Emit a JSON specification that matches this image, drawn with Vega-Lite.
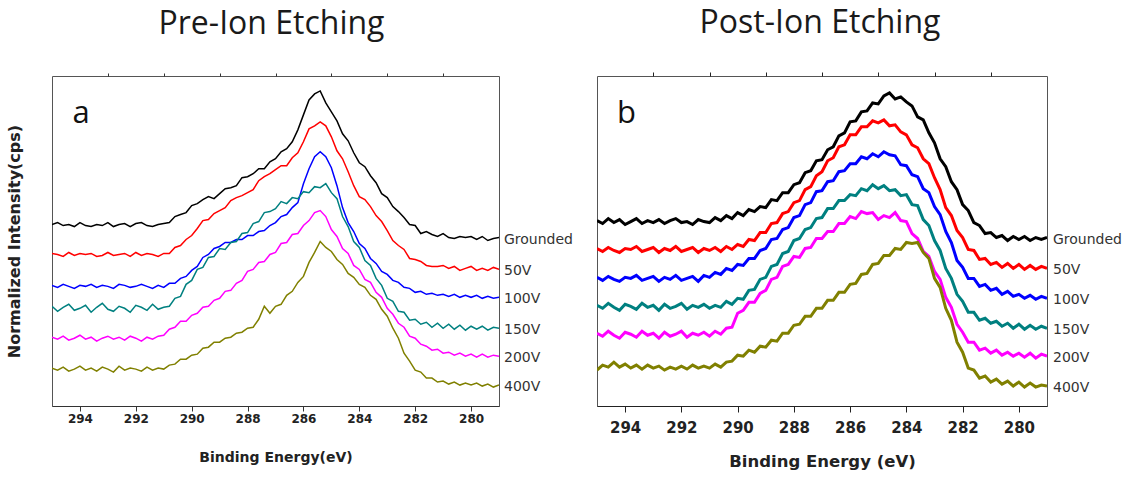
{
  "$schema": "https://vega.github.io/schema/vega-lite/v6.json",
  "background": "white",
  "padding": {"left": 5, "top": 6, "right": 5, "bottom": 4},
  "config": {
    "view": {"stroke": "#555", "strokeWidth": 1},
    "font": "DejaVu Sans",
    "axis": {"grid": false}
  },
  "bounds": "flush",
  "spacing": 98,
  "datasets": {
    "pre": [
      {"e":295,"Grounded":182,"50V":153,"100V":121,"150V":100,"200V":69,"400V":38},
      {"e":294.8,"Grounded":184,"50V":152,"100V":119,"150V":95,"200V":67,"400V":36},
      {"e":294.6,"Grounded":181,"50V":150,"100V":122,"150V":99,"200V":70,"400V":39},
      {"e":294.4,"Grounded":182,"50V":154,"100V":120,"150V":102,"200V":66,"400V":35},
      {"e":294.2,"Grounded":180,"50V":151,"100V":118,"150V":96,"200V":68,"400V":37},
      {"e":294,"Grounded":184,"50V":153,"100V":121,"150V":98,"200V":71,"400V":40},
      {"e":293.8,"Grounded":181,"50V":152,"100V":120,"150V":101,"200V":67,"400V":36},
      {"e":293.6,"Grounded":180,"50V":153,"100V":122,"150V":94,"200V":69,"400V":38},
      {"e":293.4,"Grounded":182,"50V":150,"100V":119,"150V":99,"200V":65,"400V":35},
      {"e":293.2,"Grounded":181,"50V":151,"100V":121,"150V":103,"200V":68,"400V":39},
      {"e":293,"Grounded":184,"50V":154,"100V":120,"150V":97,"200V":70,"400V":37},
      {"e":292.8,"Grounded":180,"50V":151,"100V":118,"150V":95,"200V":67,"400V":34},
      {"e":292.6,"Grounded":182,"50V":152,"100V":122,"150V":100,"200V":69,"400V":40},
      {"e":292.4,"Grounded":183,"50V":153,"100V":121,"150V":98,"200V":66,"400V":36},
      {"e":292.2,"Grounded":180,"50V":150,"100V":119,"150V":94,"200V":70,"400V":38},
      {"e":292,"Grounded":183,"50V":154,"100V":120,"150V":101,"200V":68,"400V":37},
      {"e":291.8,"Grounded":184,"50V":151,"100V":122,"150V":99,"200V":65,"400V":35},
      {"e":291.6,"Grounded":181,"50V":153,"100V":120,"150V":96,"200V":69,"400V":39},
      {"e":291.4,"Grounded":180,"50V":152,"100V":118,"150V":102,"200V":67,"400V":36},
      {"e":291.2,"Grounded":182,"50V":150,"100V":121,"150V":97,"200V":70,"400V":38},
      {"e":291,"Grounded":183,"50V":153,"100V":119,"150V":99,"200V":71,"400V":37},
      {"e":290.8,"Grounded":184,"50V":153,"100V":123,"150V":100,"200V":77,"400V":41},
      {"e":290.6,"Grounded":190,"50V":159,"100V":123,"150V":108,"200V":79,"400V":42},
      {"e":290.4,"Grounded":192,"50V":161,"100V":128,"150V":110,"200V":85,"400V":47},
      {"e":290.2,"Grounded":194,"50V":167,"100V":130,"150V":122,"200V":85,"400V":47},
      {"e":290,"Grounded":201,"50V":171,"100V":136,"150V":126,"200V":91,"400V":51},
      {"e":289.8,"Grounded":203,"50V":178,"100V":140,"150V":137,"200V":93,"400V":52},
      {"e":289.6,"Grounded":207,"50V":186,"100V":149,"150V":139,"200V":99,"400V":58},
      {"e":289.4,"Grounded":210,"50V":187,"100V":152,"150V":149,"200V":100,"400V":59},
      {"e":289.2,"Grounded":208,"50V":193,"100V":158,"150V":150,"200V":106,"400V":64},
      {"e":289,"Grounded":213,"50V":196,"100V":160,"150V":158,"200V":108,"400V":64},
      {"e":288.8,"Grounded":218,"50V":199,"100V":164,"150V":157,"200V":115,"400V":68},
      {"e":288.6,"Grounded":219,"50V":206,"100V":164,"150V":164,"200V":116,"400V":69},
      {"e":288.4,"Grounded":221,"50V":209,"100V":167,"150V":165,"200V":123,"400V":73},
      {"e":288.2,"Grounded":229,"50V":211,"100V":167,"150V":173,"200V":126,"400V":74},
      {"e":288,"Grounded":230,"50V":214,"100V":171,"150V":174,"200V":135,"400V":78},
      {"e":287.8,"Grounded":233,"50V":217,"100V":171,"150V":183,"200V":137,"400V":79},
      {"e":287.6,"Grounded":238,"50V":226,"100V":175,"150V":185,"200V":144,"400V":87},
      {"e":287.4,"Grounded":238,"50V":230,"100V":176,"150V":194,"200V":145,"400V":100},
      {"e":287.2,"Grounded":245,"50V":233,"100V":181,"150V":195,"200V":152,"400V":93},
      {"e":287,"Grounded":248,"50V":237,"100V":184,"150V":198,"200V":154,"400V":100},
      {"e":286.8,"Grounded":255,"50V":241,"100V":190,"150V":205,"200V":163,"400V":102},
      {"e":286.6,"Grounded":258,"50V":241,"100V":192,"150V":203,"200V":164,"400V":111},
      {"e":286.4,"Grounded":265,"50V":249,"100V":199,"150V":209,"200V":172,"400V":115},
      {"e":286.2,"Grounded":277,"50V":254,"100V":204,"150V":208,"200V":173,"400V":124},
      {"e":286,"Grounded":292,"50V":265,"100V":223,"150V":215,"200V":181,"400V":130},
      {"e":285.8,"Grounded":307,"50V":278,"100V":238,"150V":214,"200V":186,"400V":144},
      {"e":285.6,"Grounded":313,"50V":281,"100V":250,"150V":220,"200V":194,"400V":154},
      {"e":285.4,"Grounded":316,"50V":285,"100V":255,"150V":219,"200V":196,"400V":165},
      {"e":285.2,"Grounded":304,"50V":281,"100V":250,"150V":223,"200V":190,"400V":159},
      {"e":285,"Grounded":295,"50V":270,"100V":239,"150V":214,"200V":177,"400V":155},
      {"e":284.8,"Grounded":286,"50V":256,"100V":221,"150V":208,"200V":170,"400V":147},
      {"e":284.6,"Grounded":273,"50V":248,"100V":199,"150V":190,"200V":158,"400V":142},
      {"e":284.4,"Grounded":266,"50V":235,"100V":184,"150V":180,"200V":153,"400V":133},
      {"e":284.2,"Grounded":254,"50V":221,"100V":175,"150V":165,"200V":141,"400V":129},
      {"e":284,"Grounded":244,"50V":210,"100V":163,"150V":159,"200V":137,"400V":122},
      {"e":283.8,"Grounded":240,"50V":207,"100V":158,"150V":146,"200V":127,"400V":119},
      {"e":283.6,"Grounded":231,"50V":200,"100V":148,"150V":141,"200V":124,"400V":111},
      {"e":283.4,"Grounded":224,"50V":191,"100V":143,"150V":128,"200V":114,"400V":107},
      {"e":283.2,"Grounded":213,"50V":185,"100V":135,"150V":121,"200V":109,"400V":97},
      {"e":283,"Grounded":209,"50V":176,"100V":132,"150V":108,"200V":98,"400V":90},
      {"e":282.8,"Grounded":200,"50V":166,"100V":126,"150V":105,"200V":92,"400V":78},
      {"e":282.6,"Grounded":195,"50V":161,"100V":124,"150V":95,"200V":83,"400V":68},
      {"e":282.4,"Grounded":189,"50V":157,"100V":119,"150V":94,"200V":79,"400V":53},
      {"e":282.2,"Grounded":182,"50V":148,"100V":118,"150V":86,"200V":70,"400V":45},
      {"e":282,"Grounded":181,"50V":147,"100V":114,"150V":87,"200V":68,"400V":36},
      {"e":281.8,"Grounded":173,"50V":145,"100V":115,"150V":82,"200V":62,"400V":34},
      {"e":281.6,"Grounded":175,"50V":141,"100V":112,"150V":84,"200V":60,"400V":28},
      {"e":281.4,"Grounded":172,"50V":140,"100V":113,"150V":79,"200V":56,"400V":28},
      {"e":281.2,"Grounded":170,"50V":140,"100V":111,"150V":83,"200V":57,"400V":24},
      {"e":281,"Grounded":173,"50V":141,"100V":112,"150V":78,"200V":53,"400V":25},
      {"e":280.8,"Grounded":169,"50V":138,"100V":110,"150V":82,"200V":54,"400V":22},
      {"e":280.6,"Grounded":168,"50V":140,"100V":112,"150V":77,"200V":51,"400V":24},
      {"e":280.4,"Grounded":170,"50V":136,"100V":109,"150V":81,"200V":53,"400V":21},
      {"e":280.2,"Grounded":169,"50V":138,"100V":111,"150V":76,"200V":50,"400V":23},
      {"e":280,"Grounded":170,"50V":140,"100V":109,"150V":80,"200V":52,"400V":21},
      {"e":279.8,"Grounded":167,"50V":136,"100V":111,"150V":77,"200V":49,"400V":23},
      {"e":279.6,"Grounded":170,"50V":138,"100V":108,"150V":80,"200V":52,"400V":20},
      {"e":279.4,"Grounded":166,"50V":136,"100V":110,"150V":76,"200V":49,"400V":22},
      {"e":279.2,"Grounded":168,"50V":139,"100V":108,"150V":79,"200V":51,"400V":19},
      {"e":279,"Grounded":169,"50V":137,"100V":109,"150V":78,"200V":50,"400V":21}
    ],
    "post": [
      {"e":295,"Grounded":186,"50V":158,"100V":129,"150V":101,"200V":73,"400V":36},
      {"e":294.8,"Grounded":183,"50V":155,"100V":126,"150V":98,"200V":70,"400V":41},
      {"e":294.6,"Grounded":188,"50V":159,"100V":130,"150V":103,"200V":75,"400V":39},
      {"e":294.4,"Grounded":184,"50V":156,"100V":127,"150V":99,"200V":71,"400V":44},
      {"e":294.2,"Grounded":187,"50V":154,"100V":125,"150V":96,"200V":68,"400V":39},
      {"e":294,"Grounded":182,"50V":158,"100V":129,"150V":102,"200V":74,"400V":42},
      {"e":293.8,"Grounded":185,"50V":157,"100V":128,"150V":100,"200V":72,"400V":38},
      {"e":293.6,"Grounded":188,"50V":160,"100V":131,"150V":97,"200V":69,"400V":41},
      {"e":293.4,"Grounded":183,"50V":155,"100V":126,"150V":103,"200V":75,"400V":37},
      {"e":293.2,"Grounded":186,"50V":157,"100V":128,"150V":99,"200V":71,"400V":41},
      {"e":293,"Grounded":184,"50V":159,"100V":130,"150V":101,"200V":73,"400V":38},
      {"e":292.8,"Grounded":187,"50V":154,"100V":125,"150V":96,"200V":68,"400V":40},
      {"e":292.6,"Grounded":183,"50V":158,"100V":129,"150V":102,"200V":74,"400V":36},
      {"e":292.4,"Grounded":186,"50V":156,"100V":127,"150V":98,"200V":70,"400V":39},
      {"e":292.2,"Grounded":188,"50V":160,"100V":131,"150V":100,"200V":72,"400V":37},
      {"e":292,"Grounded":184,"50V":155,"100V":126,"150V":103,"200V":75,"400V":40},
      {"e":291.8,"Grounded":185,"50V":157,"100V":128,"150V":97,"200V":69,"400V":37},
      {"e":291.6,"Grounded":182,"50V":159,"100V":130,"150V":101,"200V":73,"400V":41},
      {"e":291.4,"Grounded":187,"50V":154,"100V":125,"150V":99,"200V":71,"400V":38},
      {"e":291.2,"Grounded":185,"50V":158,"100V":131,"150V":102,"200V":74,"400V":40},
      {"e":291,"Grounded":184,"50V":156,"100V":129,"150V":98,"200V":70,"400V":38},
      {"e":290.8,"Grounded":189,"50V":159,"100V":134,"150V":101,"200V":75,"400V":42},
      {"e":290.6,"Grounded":186,"50V":155,"100V":132,"150V":99,"200V":72,"400V":39},
      {"e":290.4,"Grounded":191,"50V":160,"100V":138,"150V":105,"200V":78,"400V":44},
      {"e":290.2,"Grounded":188,"50V":157,"100V":136,"150V":102,"200V":79,"400V":45},
      {"e":290,"Grounded":194,"50V":162,"100V":142,"150V":108,"200V":93,"400V":51},
      {"e":289.8,"Grounded":191,"50V":160,"100V":141,"150V":107,"200V":96,"400V":50},
      {"e":289.6,"Grounded":197,"50V":167,"100V":148,"150V":116,"200V":104,"400V":56},
      {"e":289.4,"Grounded":195,"50V":166,"100V":148,"150V":117,"200V":104,"400V":54},
      {"e":289.2,"Grounded":200,"50V":174,"100V":156,"150V":127,"200V":113,"400V":60},
      {"e":289,"Grounded":199,"50V":174,"100V":158,"150V":129,"200V":116,"400V":59},
      {"e":288.8,"Grounded":207,"50V":183,"100V":167,"150V":140,"200V":127,"400V":66},
      {"e":288.6,"Grounded":206,"50V":184,"100V":168,"150V":142,"200V":129,"400V":65},
      {"e":288.4,"Grounded":214,"50V":193,"100V":177,"150V":153,"200V":140,"400V":73},
      {"e":288.2,"Grounded":214,"50V":195,"100V":179,"150V":155,"200V":142,"400V":73},
      {"e":288,"Grounded":222,"50V":204,"100V":189,"150V":166,"200V":150,"400V":81},
      {"e":287.8,"Grounded":224,"50V":206,"100V":191,"150V":168,"200V":149,"400V":82},
      {"e":287.6,"Grounded":234,"50V":217,"100V":202,"150V":177,"200V":158,"400V":90},
      {"e":287.4,"Grounded":236,"50V":220,"100V":204,"150V":179,"200V":159,"400V":90},
      {"e":287.2,"Grounded":246,"50V":231,"100V":215,"150V":188,"200V":168,"400V":98},
      {"e":287,"Grounded":247,"50V":235,"100V":216,"150V":189,"200V":168,"400V":98},
      {"e":286.8,"Grounded":257,"50V":246,"100V":225,"150V":198,"200V":175,"400V":106},
      {"e":286.6,"Grounded":260,"50V":249,"100V":226,"150V":198,"200V":175,"400V":106},
      {"e":286.4,"Grounded":271,"50V":260,"100V":235,"150V":206,"200V":183,"400V":114},
      {"e":286.2,"Grounded":274,"50V":262,"100V":236,"150V":206,"200V":183,"400V":114},
      {"e":286,"Grounded":285,"50V":272,"100V":243,"150V":212,"200V":190,"400V":122},
      {"e":285.8,"Grounded":286,"50V":272,"100V":243,"150V":211,"200V":188,"400V":123},
      {"e":285.6,"Grounded":295,"50V":280,"100V":250,"150V":218,"200V":195,"400V":132},
      {"e":285.4,"Grounded":296,"50V":280,"100V":248,"150V":216,"200V":193,"400V":133},
      {"e":285.2,"Grounded":304,"50V":286,"100V":253,"150V":222,"200V":194,"400V":142},
      {"e":285,"Grounded":303,"50V":284,"100V":250,"150V":218,"200V":187,"400V":143},
      {"e":284.8,"Grounded":311,"50V":287,"100V":255,"150V":221,"200V":191,"400V":151},
      {"e":284.6,"Grounded":314,"50V":281,"100V":252,"150V":216,"200V":189,"400V":151},
      {"e":284.4,"Grounded":308,"50V":282,"100V":251,"150V":217,"200V":194,"400V":158},
      {"e":284.2,"Grounded":310,"50V":275,"100V":242,"150V":211,"200V":186,"400V":157},
      {"e":284,"Grounded":305,"50V":272,"100V":241,"150V":212,"200V":185,"400V":164},
      {"e":283.8,"Grounded":301,"50V":262,"100V":232,"150V":202,"200V":173,"400V":163},
      {"e":283.6,"Grounded":290,"50V":259,"100V":230,"150V":201,"200V":168,"400V":164},
      {"e":283.4,"Grounded":287,"50V":248,"100V":218,"150V":187,"200V":155,"400V":154},
      {"e":283.2,"Grounded":274,"50V":243,"100V":214,"150V":181,"200V":150,"400V":148},
      {"e":283,"Grounded":264,"50V":229,"100V":200,"150V":166,"200V":135,"400V":128},
      {"e":282.8,"Grounded":248,"50V":217,"100V":192,"150V":156,"200V":127,"400V":119},
      {"e":282.6,"Grounded":240,"50V":199,"100V":175,"150V":138,"200V":109,"400V":98},
      {"e":282.4,"Grounded":225,"50V":191,"100V":164,"150V":128,"200V":99,"400V":86},
      {"e":282.2,"Grounded":217,"50V":176,"100V":146,"150V":112,"200V":82,"400V":64},
      {"e":282,"Grounded":202,"50V":169,"100V":139,"150V":105,"200V":74,"400V":54},
      {"e":281.8,"Grounded":196,"50V":157,"100V":128,"150V":94,"200V":64,"400V":38},
      {"e":281.6,"Grounded":184,"50V":156,"100V":128,"150V":94,"200V":64,"400V":36},
      {"e":281.4,"Grounded":181,"50V":147,"100V":120,"150V":86,"200V":56,"400V":28},
      {"e":281.2,"Grounded":173,"50V":148,"100V":122,"150V":88,"200V":58,"400V":30},
      {"e":281,"Grounded":174,"50V":142,"100V":116,"150V":83,"200V":53,"400V":24},
      {"e":280.8,"Grounded":169,"50V":144,"100V":118,"150V":85,"200V":56,"400V":27},
      {"e":280.6,"Grounded":171,"50V":139,"100V":112,"150V":80,"200V":51,"400V":22},
      {"e":280.4,"Grounded":166,"50V":143,"100V":115,"150V":83,"200V":54,"400V":25},
      {"e":280.2,"Grounded":170,"50V":138,"100V":110,"150V":78,"200V":50,"400V":20},
      {"e":280,"Grounded":167,"50V":142,"100V":112,"150V":82,"200V":53,"400V":24},
      {"e":279.8,"Grounded":170,"50V":137,"100V":108,"150V":77,"200V":49,"400V":19},
      {"e":279.6,"Grounded":166,"50V":141,"100V":111,"150V":81,"200V":53,"400V":23},
      {"e":279.4,"Grounded":169,"50V":137,"100V":107,"150V":77,"200V":48,"400V":19},
      {"e":279.2,"Grounded":167,"50V":140,"100V":110,"150V":80,"200V":52,"400V":21},
      {"e":279,"Grounded":169,"50V":138,"100V":108,"150V":78,"200V":50,"400V":20}
    ]
  },
  "hconcat": [
    {
      "width": 447,
      "height": 330,
      "title": {"text": "Pre-Ion Etching", "font": "Open Sans", "fontSize": 32, "fontWeight": "normal", "color": "#1a1a1a", "anchor": "middle", "frame": "group", "baseline": "alphabetic", "offset": 7, "dx": -4},
      "resolve": {"axis": {"x": "independent"}},
      "layer": [
        {
          "data": {"name": "pre"},
          "transform": [{"fold": ["Grounded", "50V", "100V", "150V", "200V", "400V"], "as": ["series", "intensity"]}],
          "mark": {"type": "line", "strokeWidth": 1.5, "clip": true},
          "encoding": {
            "x": {
              "field": "e", "type": "quantitative",
              "scale": {"domain": [279, 295], "reverse": true, "nice": false, "zero": false},
              "axis": {
                "title": "Binding Energy(eV)",
                "values": [280, 282, 284, 286, 288, 290, 292, 294],
                "tickSize": 5, "tickColor": "#333", "domainColor": "#333",
                "labelFont": "DejaVu Sans", "labelFontSize": 12, "labelFontWeight": "bold", "labelColor": "#222",
                "labelPadding": 2, "labelFlush": false, "labelOverlap": false,
                "titleFont": "DejaVu Sans", "titleFontSize": 14, "titleFontWeight": "bold", "titleColor": "#222", "titlePadding": 26
              }
            },
            "y": {
              "field": "intensity", "type": "quantitative",
              "scale": {"domain": [0, 331], "nice": false},
              "axis": {
                "title": "Normalized Intensity(cps)", "labels": false, "ticks": false, "domain": false,
                "titleFont": "DejaVu Sans", "titleFontSize": 16, "titleFontWeight": "bold", "titleColor": "#222", "titlePadding": 30
              }
            },
            "color": {
              "field": "series", "type": "nominal",
              "scale": {"domain": ["Grounded", "50V", "100V", "150V", "200V", "400V"], "range": ["#000000", "#ff0000", "#0000ff", "#008080", "#ff00ff", "#808000"]},
              "legend": null
            }
          }
        },
        {
          "data": {"name": "pre"},
          "transform": [
            {"fold": ["Grounded", "50V", "100V", "150V", "200V", "400V"], "as": ["series", "intensity"]},
            {"filter": "datum.e == 279"}
          ],
          "mark": {"type": "text", "align": "left", "baseline": "middle", "dx": 5, "dy": 2, "font": "DejaVu Sans", "fontSize": 14, "color": "#333"},
          "encoding": {
            "x": {
              "field": "e", "type": "quantitative",
              "axis": {"values": [281, 283, 285, 287, 289, 291, 293], "tickSize": 3, "tickColor": "#333", "labels": false, "domain": false, "title": null}
            },
            "y": {"field": "intensity", "type": "quantitative"},
            "text": {"field": "series"}
          }
        },
        {
          "data": {"values": [{"e": 294.27, "intensity": 284, "tag": "a"}]},
          "mark": {"type": "text", "align": "left", "baseline": "alphabetic", "font": "Open Sans", "fontSize": 31, "color": "#111"},
          "encoding": {
            "x": {"field": "e", "type": "quantitative", "axis": null},
            "y": {"field": "intensity", "type": "quantitative"},
            "text": {"field": "tag"}
          }
        }
      ]
    },
    {
      "width": 450,
      "height": 330,
      "title": {"text": "Post-Ion Etching", "font": "Open Sans", "fontSize": 32, "fontWeight": "normal", "color": "#1a1a1a", "anchor": "middle", "frame": "group", "baseline": "alphabetic", "offset": 7, "dx": -2},
      "resolve": {"axis": {"x": "independent"}},
      "layer": [
        {
          "data": {"name": "post"},
          "transform": [{"fold": ["Grounded", "50V", "100V", "150V", "200V", "400V"], "as": ["series", "intensity"]}],
          "mark": {"type": "line", "strokeWidth": 3, "clip": true},
          "encoding": {
            "x": {
              "field": "e", "type": "quantitative",
              "scale": {"domain": [279, 295], "reverse": true, "nice": false, "zero": false},
              "axis": {
                "title": "Binding Energy (eV)",
                "values": [280, 282, 284, 286, 288, 290, 292, 294],
                "tickSize": 6, "tickColor": "#222", "domainColor": "#222",
                "labelFont": "DejaVu Sans", "labelFontSize": 15, "labelFontWeight": "bold", "labelColor": "#222",
                "labelPadding": 8, "labelFlush": false, "labelOverlap": false,
                "titleFont": "DejaVu Sans", "titleFontSize": 16.5, "titleFontWeight": "bold", "titleColor": "#222", "titlePadding": 18
              }
            },
            "y": {
              "field": "intensity", "type": "quantitative",
              "scale": {"domain": [0, 331], "nice": false},
              "axis": null
            },
            "color": {
              "field": "series", "type": "nominal",
              "scale": {"domain": ["Grounded", "50V", "100V", "150V", "200V", "400V"], "range": ["#000000", "#ff0000", "#0000ff", "#008080", "#ff00ff", "#808000"]},
              "legend": null
            }
          }
        },
        {
          "data": {"name": "post"},
          "transform": [
            {"fold": ["Grounded", "50V", "100V", "150V", "200V", "400V"], "as": ["series", "intensity"]},
            {"filter": "datum.e == 279"}
          ],
          "mark": {"type": "text", "align": "left", "baseline": "middle", "dx": 6, "dy": 2, "font": "DejaVu Sans", "fontSize": 14, "color": "#333"},
          "encoding": {
            "x": {
              "field": "e", "type": "quantitative",
              "axis": {"values": [281, 283, 285, 287, 289, 291, 293], "tickSize": 4, "tickColor": "#222", "labels": false, "domain": false, "title": null}
            },
            "y": {"field": "intensity", "type": "quantitative", "axis": null},
            "text": {"field": "series"}
          }
        },
        {
          "data": {"values": [{"e": 294.29, "intensity": 284, "tag": "b"}]},
          "mark": {"type": "text", "align": "left", "baseline": "alphabetic", "font": "Open Sans", "fontSize": 31, "color": "#111"},
          "encoding": {
            "x": {"field": "e", "type": "quantitative", "axis": null},
            "y": {"field": "intensity", "type": "quantitative", "axis": null},
            "text": {"field": "tag"}
          }
        }
      ]
    }
  ]
}
